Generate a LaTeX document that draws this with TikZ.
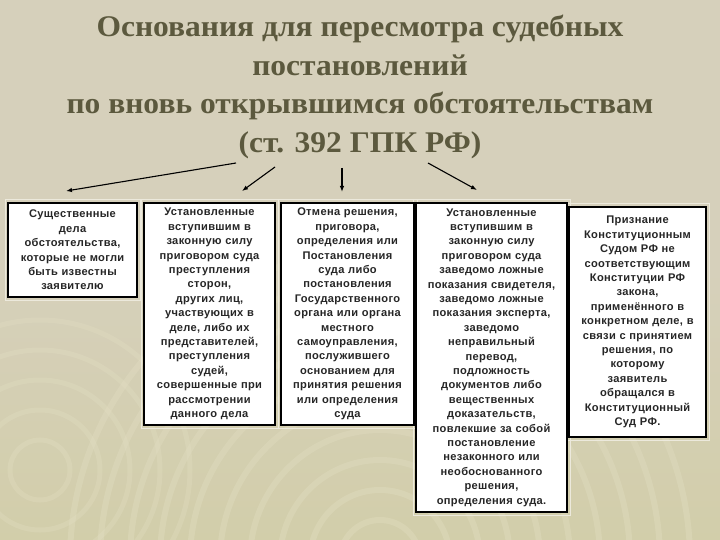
\documentclass[tikz,border=0pt]{standalone}
\usepackage{fontspec}
\setmainfont{Liberation Serif}
\setsansfont{Liberation Sans}
\newfontfamily\titlefont[FakeStretch=1.05]{Liberation Serif}
\newfontfamily\boxfont[LetterSpace=3]{Liberation Sans}
\usetikzlibrary{arrows.meta}
\definecolor{bgbeige}{RGB}{214,208,187}
\definecolor{bgbottom}{RGB}{210,206,170}
\definecolor{ringcol}{RGB}{228,224,196}
\definecolor{titlecol}{RGB}{92,89,62}
\definecolor{framelight}{RGB}{236,233,220}
\tikzset{
  box/.style={draw=black, line width=1.3pt, fill=white, inner sep=1pt,
    align=center, font=\boxfont\bfseries\fontsize{11.1}{14.4}\selectfont,
    text=black!85},
  conn/.style={line width=1.1pt, -{Latex[length=6pt,width=4.5pt]}},
  titlestyle/.style={align=center, font=\titlefont\bfseries\fontsize{30}{38.5}\selectfont}
}
\begin{document}
\begin{tikzpicture}[x=1pt,y=-1pt]
\useasboundingbox (0,0) rectangle (720,540);
\shade[top color=bgbeige, bottom color=bgbottom, middle color=bgbeige] (0,0) rectangle (720,540);
% faint ripple rings
\begin{scope}
\clip (0,0) rectangle (720,540);
\foreach \r in {40,70,100,130,160,190,220,250,280,310}{
  \draw[ringcol, opacity=0.35, line width=6pt] (380,560) circle[radius=\r];
}
\foreach \r in {30,60,90,120,150}{
  \draw[ringcol, opacity=0.3, line width=5pt] (40,470) circle[radius=\r];
}
\end{scope}
% title
\node[titlestyle, text=titlecol] (title) at (360,87) {Основания для пересмотра судебных\\постановлений\\по вновь открывшимся обстоятельствам\\(ст. 392 ГПК РФ)};
% boxes: light outer frames
\foreach \a/\b/\c/\d in {8/203/137/297,144/203/275/425,281/203/414/425,416/203/567/512,569/207/706/437}{
  \draw[framelight, line width=1pt] (\a-3,\b-3) rectangle (\c+3,\d+3);
}
\node[box, minimum width=129pt, minimum height=94pt, text width=127pt] (b1) at (72.5,250)
 {Существенные\\дела\\обстоятельства,\\которые не могли\\быть известны\\заявителю};
\node[box, minimum width=131pt, minimum height=222pt, text width=129pt] (b2) at (209.5,314)
 {Установленные\\вступившим в\\законную силу\\приговором суда\\преступления\\сторон,\\других лиц,\\участвующих в\\деле, либо их\\представителей,\\преступления\\судей,\\совершенные при\\рассмотрении\\данного дела};
\node[box, minimum width=133pt, minimum height=222pt, text width=131pt] (b3) at (347.5,314)
 {Отмена решения,\\приговора,\\определения или\\Постановления\\суда либо\\постановления\\Государственного\\органа или органа\\местного\\самоуправления,\\послужившего\\основанием для\\принятия решения\\или определения\\суда};
\node[box, minimum width=151pt, minimum height=309pt, text width=149pt] (b4) at (491.5,357.5)
 {Установленные\\вступившим в\\законную силу\\приговором суда\\заведомо ложные\\показания свидетеля,\\заведомо ложные\\показания эксперта,\\заведомо\\неправильный\\перевод,\\подложность\\документов либо\\вещественных\\доказательств,\\повлекшие за собой\\постановление\\незаконного или\\необоснованного\\решения,\\определения суда.};
\node[box, minimum width=137pt, minimum height=230pt, text width=135pt] (b5) at (637.5,322)
 {Признание\\Конституционным\\Судом РФ не\\соответствующим\\Конституции РФ\\закона,\\применённого в\\конкретном деле, в\\связи с принятием\\решения, по\\которому\\заявитель\\обращался в\\Конституционный\\Суд РФ.};
% arrows
\coordinate (s1) at (236,163);
\coordinate (e1) at (66,191);
\coordinate (s2) at (275,167);
\coordinate (e2) at (242,191);
\coordinate (s3) at (342,168);
\coordinate (e3) at (342,192);
\coordinate (s4) at (428,163);
\coordinate (e4) at (477,190);
\draw[conn] (s1) -- (e1);
\draw[conn] (s2) -- (e2);
\draw[conn] (s3) -- (e3);
\draw[conn] (s4) -- (e4);
\end{tikzpicture}
\end{document}
